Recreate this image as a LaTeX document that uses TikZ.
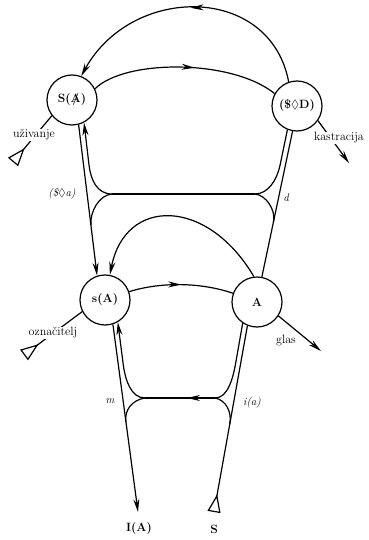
\documentclass[tikz,border=0pt]{standalone}
\usepackage{amsmath}
\usepackage{amssymb}
\usepackage{tikz}
\usetikzlibrary{arrows.meta,decorations.markings}

\newcommand{\barA}{\ooalign{A\cr\hidewidth/\hidewidth}}

\begin{document}
\begin{tikzpicture}[
    x=1pt, y=-1pt,
    line width=1.2pt,
    mjesto/.style={circle, draw, minimum size=50pt, inner sep=0pt, font=\fontsize{12}{14}\selectfont\bfseries},
    oznaka/.style={fill=white, inner sep=1pt, font=\fontsize{12}{14}\selectfont},
    slovo/.style={inner sep=1pt, font=\fontsize{11}{13}\selectfont\itshape},
    kraj/.style={font=\fontsize{12}{14}\selectfont\bfseries},
    strelica/.style={arrows={-Stealth[length=13pt,width=6pt]}},
    pocetak/.style={arrows={Triangle[open,reversed,length=18pt,width=13pt]-}},
    sredina/.style={postaction={decorate}, decoration={markings,
        mark=at position #1 with {\arrow{Stealth[length=13pt,width=6pt]}}}}
]
\useasboundingbox (0,0) rectangle (368,540);

\node[mjesto] (SA) at (72,100) {S(\barA)};
\node[mjesto] (SD) at (297,106) {(\$$\lozenge$D)};
\node[mjesto] (sA) at (105,300) {s(A)};
\node[mjesto] (A) at (257,302) {A};

\coordinate (jL) at (112,194);
\coordinate (jR) at (255,194);
\coordinate (jLd) at (145,398);
\coordinate (jRd) at (215,398);
\coordinate (IAtip) at (138,512);
\coordinate (Sbase) at (214,512);
\coordinate (uzStart) at (13,162);
\coordinate (ozStart) at (24,355);
\coordinate (kaTip) at (349,163);
\coordinate (glTip) at (321,351);

% gornji kat
\draw[strelica, sredina=0.5] (SD.109) .. controls (270,-16) and (132,-16) .. (SA.69);
\draw[sredina=0.55] (SA.26) .. controls (125,59) and (232,59) .. (SD.151);
\draw[strelica] (SA.-75) -- (sA.108);
\draw[strelica] (jL) .. controls (97,194) and (90.8,180) .. (89,165) -- (SA.-62);
\draw (jL) .. controls (99,195) and (89.7,212) .. (91,225);
\draw (jL) -- (jR);
\draw (SD.-112) -- (280.1,165) .. controls (277,180) and (268,194) .. (jR);
\draw (jR) .. controls (266,195) and (276,210) .. (273.5,222);
\draw (SD.-100) -- (A.79);
\draw[strelica] (A.97) .. controls (207,197) and (125,197) .. (sA.79);
\draw[sredina=0.5] (sA.19) .. controls (160,282) and (200,282) .. (A.160);

% donji kat
\draw[strelica] (sA.-72) -- (IAtip);
\draw[strelica] (jLd) .. controls (131,398) and (125.3,380) .. (123.3,365) -- (sA.-60);
\draw (jLd) .. controls (132,400) and (124.3,410) .. (125.9,422);
\draw[sredina=0.4] (jRd) -- (jLd);
\draw (A.-124) -- (235.7,363) .. controls (233,378) and (228,398) .. (jRd);
\draw (jRd) .. controls (226,400) and (232,412) .. (229.8,424);
\draw[pocetak] (Sbase) -- (A.-112);

% bocne strelice
\draw[pocetak] (uzStart) -- (SA.218);
\draw[strelica] (SD.-35) -- (kaTip);
\draw[pocetak] (ozStart) -- (sA.207);
\draw[strelica] (A.-33) -- (glTip);

% oznake
\node[oznaka] (uziv) at (34,135) {uživanje};
\node[oznaka] (kastr) at (339,138) {kastracija};
\node[oznaka] (oznac) at (53,333) {označitelj};
\node[oznaka] (glas) at (286,341) {glas};
\node[slovo] (fant) at (62,194) {(\$$\lozenge$a)};
\node[slovo] (d) at (286,198) {d};
\node[slovo] (m) at (110,401) {m};
\node[slovo] (ia) at (252,403) {i(a)};
\node[kraj] (IA) at (139,528) {I(A)};
\node[kraj] (S) at (214,529) {S};

\end{tikzpicture}
\end{document}
